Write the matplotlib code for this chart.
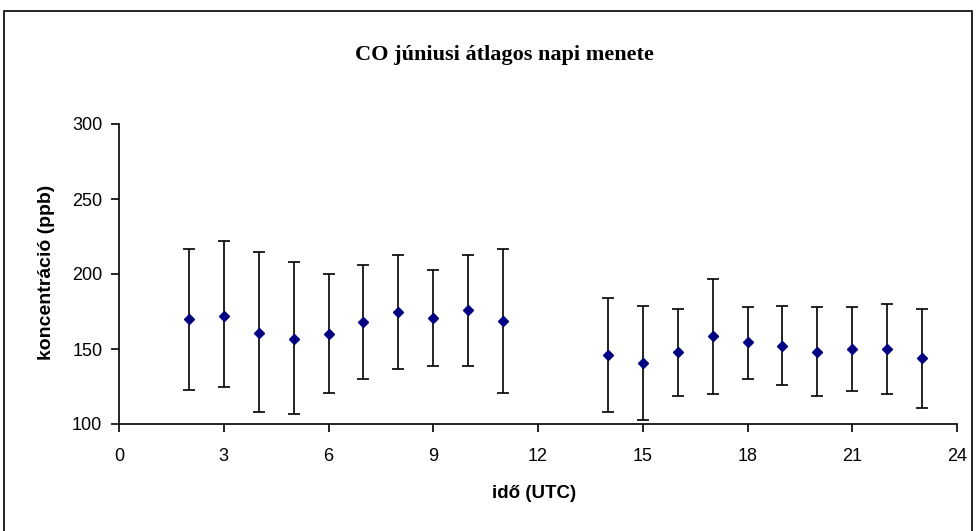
import matplotlib.pyplot as plt
from matplotlib.patches import Rectangle

# CO June mean daily course
hours = [2, 3, 4, 5, 6, 7, 8, 9, 10, 11, 14, 15, 16, 17, 18, 19, 20, 21, 22, 23]
mean = [170, 172, 161, 157, 160, 168, 175, 171, 176, 169,
        146, 141, 148, 159, 155, 152, 148, 150, 150, 144]
upper = [217, 222, 215, 208, 200, 206, 213, 203, 213, 217,
         184, 179, 177, 197, 178, 179, 178, 178, 180, 177]
lower = [123, 125, 108, 107, 121, 130, 137, 139, 139, 121,
         108, 103, 119, 120, 130, 126, 119, 122, 120, 111]

err_lo = [m - l for m, l in zip(mean, lower)]
err_hi = [u - m for m, u in zip(mean, upper)]

fig = plt.figure(figsize=(9.76, 5.31), dpi=100)
ax = fig.add_axes([119 / 976, 107 / 531, 838 / 976, 300 / 531])

ax.errorbar(hours, mean, yerr=[err_lo, err_hi], fmt='D', color='#000080',
            ms=5.5, ecolor='black', elinewidth=1.2, capsize=4, capthick=1.2)

ax.set_xlim(0, 24)
ax.set_ylim(100, 300)
ax.set_xticks(range(0, 25, 3))
ax.set_yticks(range(100, 301, 50))
for s in ['top', 'right']:
    ax.spines[s].set_visible(False)
for s in ['left', 'bottom']:
    ax.spines[s].set_linewidth(1.2)
ax.tick_params(direction='out', length=6, width=1.2, labelsize=13)
ax.tick_params(axis='x', pad=11)
ax.tick_params(axis='y', pad=6)
for lab in ax.get_xticklabels() + ax.get_yticklabels():
    lab.set_family('Liberation Sans')

ax.set_xlabel('idő (UTC)', fontsize=13.5, fontweight='bold',
              family='Liberation Sans', va='center')
ax.xaxis.set_label_coords(0.5 + (534 - 538) / 838, (424 - 493) / 300)
ax.set_ylabel('koncentráció (ppb)', fontsize=14, fontweight='bold',
              family='Liberation Sans', va='center')
ax.yaxis.set_label_coords((47 - 119) / 838, (424 - 272) / 300)

fig.text(504 / 976, 1 - 55 / 531, 'CO júniusi átlagos napi menete', ha='center',
         va='center', fontsize=16, fontweight='bold', family='Liberation Serif')

# outer frame of the chart
fig.patches.append(Rectangle((4 / 976, -0.01), 968 / 976, 1 - 11 / 531 + 0.01,
                             transform=fig.transFigure, fill=False,
                             edgecolor='black', linewidth=1.2))

fig.savefig('out.png', dpi=100)
